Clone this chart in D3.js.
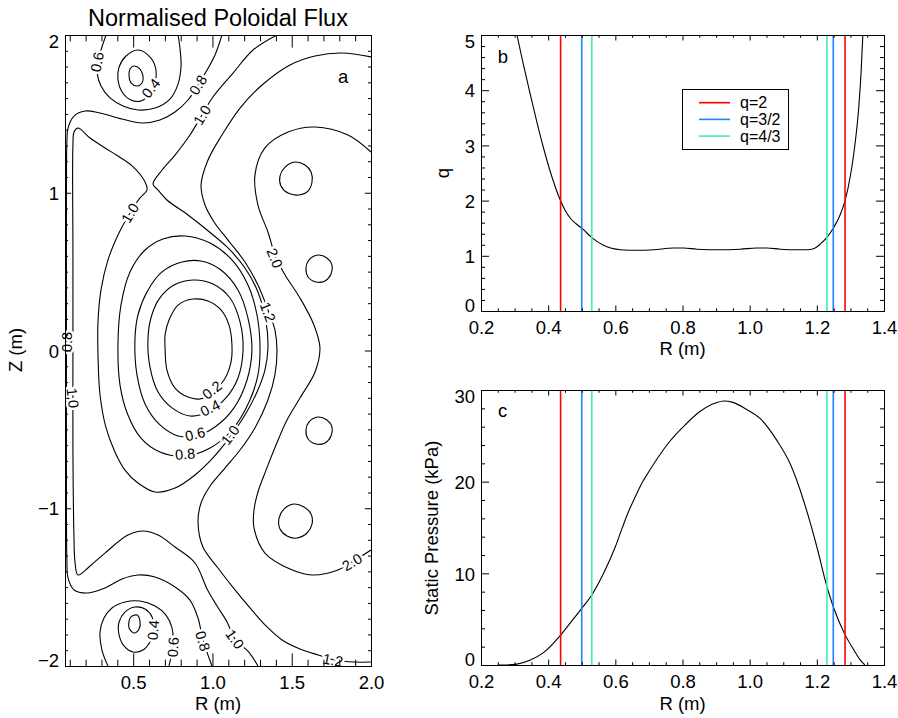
<!DOCTYPE html>
<html>
<head>
<meta charset="utf-8">
<script src="https://cdn.jsdelivr.net/npm/d3@7"></script>
<style>
  body { margin: 0; background: #fff; }
  svg text { font-family: "Liberation Sans", Arial, Helvetica, sans-serif; fill: #000; }
</style>
</head>
<body>
<svg id="fig" width="898" height="718"></svg>
<script>
// ---------------- Panel a: normalised poloidal flux contours, [R (m), Z (m)] ----------------
const core02 = [[0.701,0.022],[0.713,-0.124],[0.764,-0.238],[0.846,-0.295],[0.921,-0.307],[0.997,-0.269],[1.073,-0.187],[1.117,-0.073],[1.123,0.035],[1.104,0.162],[1.054,0.257],[0.972,0.314],[0.877,0.326],[0.783,0.288],[0.726,0.193],[0.701,0.098]];
const core04 = [[0.593,0.067],[0.606,-0.105],[0.657,-0.263],[0.745,-0.364],[0.858,-0.415],[0.972,-0.390],[1.085,-0.301],[1.161,-0.174],[1.193,0.003],[1.174,0.181],[1.111,0.333],[1.003,0.422],[0.877,0.447],[0.757,0.415],[0.663,0.326],[0.612,0.206]];
const core06 = [[0.511,0.067],[0.524,-0.155],[0.575,-0.339],[0.669,-0.472],[0.783,-0.542],[0.896,-0.542],[1.016,-0.485],[1.136,-0.364],[1.218,-0.187],[1.249,0.003],[1.224,0.206],[1.161,0.384],[1.054,0.510],[0.928,0.567],[0.808,0.561],[0.682,0.498],[0.587,0.371],[0.530,0.225]];
const core08 = [[0.404,0.035],[0.417,-0.219],[0.467,-0.409],[0.549,-0.555],[0.669,-0.643],[0.827,-0.669],[0.985,-0.618],[1.123,-0.504],[1.231,-0.326],[1.287,-0.155],[1.300,0.016],[1.281,0.225],[1.224,0.415],[1.123,0.574],[0.985,0.681],[0.827,0.726],[0.688,0.707],[0.575,0.637],[0.480,0.498],[0.423,0.288]];

const upperIsland02 = [[0.505,1.803],[0.480,1.784],[0.474,1.740],[0.486,1.696],[0.524,1.677],[0.556,1.696],[0.562,1.740],[0.543,1.784]];
const upperIsland04 = [[0.530,1.905],[0.455,1.867],[0.411,1.797],[0.404,1.715],[0.430,1.639],[0.486,1.588],[0.549,1.582],[0.606,1.626],[0.638,1.696],[0.644,1.778],[0.612,1.854]];
const upper06 = [[0.329,2.0],[0.303,1.924],[0.278,1.841],[0.272,1.765],[0.297,1.677],[0.354,1.601],[0.436,1.550],[0.530,1.525],[0.638,1.537],[0.732,1.594],[0.783,1.689],[0.802,1.803],[0.795,1.918],[0.783,2.0]];

const lowerIsland02 = [[0.486,-1.689],[0.524,-1.677],[0.543,-1.715],[0.537,-1.765],[0.505,-1.791],[0.474,-1.759],[0.474,-1.715]];
const lowerIsland04 = [[0.511,-1.626],[0.448,-1.658],[0.411,-1.721],[0.411,-1.803],[0.442,-1.873],[0.499,-1.911],[0.562,-1.899],[0.606,-1.848],[0.631,-1.772],[0.619,-1.689],[0.575,-1.639]];
const lower06 = [[0.341,-2.0],[0.303,-1.899],[0.291,-1.784],[0.316,-1.696],[0.366,-1.632],[0.448,-1.594],[0.543,-1.588],[0.638,-1.620],[0.707,-1.677],[0.745,-1.759],[0.751,-1.867],[0.726,-2.0]];

const sep08 = [[1.060,2.0],[1.016,1.873],[0.966,1.778],[0.909,1.683],[0.846,1.588],[0.764,1.512],[0.669,1.461],[0.556,1.442],[0.430,1.467],[0.291,1.505],[0.196,1.518],[0.127,1.486],[0.089,1.410],[0.082,1.322],[0.079,0.954],[0.079,0.0],[0.079,-0.948],[0.082,-1.328],[0.089,-1.442],[0.127,-1.518],[0.215,-1.537],[0.322,-1.506],[0.430,-1.448],[0.530,-1.423],[0.638,-1.436],[0.764,-1.499],[0.858,-1.582],[0.909,-1.696],[0.940,-1.835],[0.997,-2.0]];

const sep10 = [[1.407,2.0],[1.256,1.905],[1.130,1.759],[1.003,1.607],[0.934,1.493],[0.858,1.366],[0.764,1.239],[0.682,1.144],[0.625,1.055],[0.657,1.017],[0.713,0.954],[0.846,0.859],[0.966,0.764],[1.098,0.650],[1.205,0.523],[1.287,0.371],[1.338,0.181],[1.350,0.016],[1.331,-0.124],[1.281,-0.263],[1.205,-0.409],[1.111,-0.548],[1.003,-0.681],[0.890,-0.789],[0.764,-0.872],[0.638,-0.897],[0.530,-0.840],[0.448,-0.758],[0.385,-0.643],[0.329,-0.491],[0.291,-0.282],[0.278,-0.029],[0.278,0.181],[0.297,0.384],[0.341,0.574],[0.404,0.732],[0.480,0.872],[0.543,0.967],[0.587,1.017],[0.575,1.068],[0.493,1.170],[0.404,1.233],[0.322,1.284],[0.228,1.347],[0.152,1.410],[0.127,1.385],[0.120,1.303],[0.120,0.637],[0.120,0.003],[0.120,-0.631],[0.127,-1.201],[0.133,-1.341],[0.152,-1.423],[0.228,-1.366],[0.322,-1.284],[0.467,-1.170],[0.562,-1.144],[0.657,-1.170],[0.764,-1.246],[0.890,-1.347],[0.966,-1.512],[1.029,-1.620],[1.092,-1.721],[1.142,-1.829],[1.228,-1.911],[1.287,-2.0]];

const flux12 = [[2.0,1.861],[1.817,1.886],[1.647,1.867],[1.489,1.810],[1.313,1.683],[1.174,1.537],[1.060,1.366],[0.972,1.208],[0.928,1.049],[0.953,0.922],[1.010,0.815],[1.098,0.700],[1.205,0.561],[1.287,0.415],[1.350,0.257],[1.394,0.130],[1.407,0.003],[1.394,-0.155],[1.350,-0.314],[1.268,-0.491],[1.174,-0.631],[1.079,-0.745],[0.985,-0.859],[0.928,-0.967],[0.909,-1.087],[0.940,-1.246],[1.035,-1.379],[1.142,-1.518],[1.237,-1.632],[1.338,-1.746],[1.439,-1.835],[1.552,-1.892],[1.666,-1.930],[1.773,-1.962],[1.899,-1.975],[2.0,-1.975]];

const flux20 = [[2.0,1.258],[1.855,1.366],[1.647,1.417],[1.477,1.385],[1.331,1.284],[1.268,1.112],[1.287,0.922],[1.350,0.751],[1.401,0.586],[1.458,0.479],[1.552,0.333],[1.640,0.162],[1.678,0.016],[1.647,-0.136],[1.552,-0.301],[1.470,-0.441],[1.401,-0.599],[1.338,-0.758],[1.287,-0.897],[1.262,-1.011],[1.262,-1.125],[1.331,-1.284],[1.489,-1.385],[1.628,-1.423],[1.792,-1.391],[1.880,-1.341],[2.0,-1.265]];

const outerO1 = [[1.521,1.195],[1.584,1.176],[1.622,1.132],[1.628,1.068],[1.603,1.011],[1.546,0.986],[1.477,0.998],[1.432,1.043],[1.426,1.106],[1.458,1.163]];
const outerO2 = [[1.666,0.605],[1.722,0.586],[1.754,0.542],[1.748,0.485],[1.710,0.441],[1.653,0.434],[1.603,0.466],[1.590,0.523],[1.609,0.574]];
const outerO3 = [[1.666,-0.422],[1.722,-0.441],[1.754,-0.485],[1.748,-0.542],[1.710,-0.586],[1.653,-0.593],[1.603,-0.561],[1.590,-0.504],[1.609,-0.453]];
const outerO4 = [[1.514,-0.973],[1.577,-0.992],[1.622,-1.036],[1.628,-1.100],[1.596,-1.157],[1.533,-1.189],[1.470,-1.176],[1.426,-1.132],[1.420,-1.062],[1.451,-1.005]];

const contourSet = [
  { level: 0.2, pts: core02, closed: true },
  { level: 0.4, pts: core04, closed: true },
  { level: 0.6, pts: core06, closed: true },
  { level: 0.8, pts: core08, closed: true },
  { level: 0.2, pts: upperIsland02, closed: true },
  { level: 0.4, pts: upperIsland04, closed: true },
  { level: 0.6, pts: upper06, closed: false },
  { level: 0.2, pts: lowerIsland02, closed: true },
  { level: 0.4, pts: lowerIsland04, closed: true },
  { level: 0.6, pts: lower06, closed: false },
  { level: 0.8, pts: sep08, closed: false },
  { level: 1.0, pts: sep10, closed: false },
  { level: 1.2, pts: flux12, closed: false },
  { level: 2.0, pts: flux20, closed: false },
  { level: 2.2, pts: outerO1, closed: true },
  { level: 2.2, pts: outerO2, closed: true },
  { level: 2.2, pts: outerO3, closed: true },
  { level: 2.2, pts: outerO4, closed: true }
];

// Contour labels: which line and where along it (R, Z)
const contourLabels = [
  { line: upper06, at: [0.272, 1.829] },
  { line: upperIsland04, at: [0.612, 1.664] },
  { line: sep08, at: [0.909, 1.683] },
  { line: sep10, at: [0.934, 1.493] },
  { line: sep10, at: [0.480, 0.872] },
  { line: flux20, at: [1.394, 0.586] },
  { line: flux12, at: [1.350, 0.244] },
  { line: sep08, at: [0.080, 0.054] },
  { line: sep10, at: [0.120, -0.301] },
  { line: core02, at: [0.997, -0.250] },
  { line: core04, at: [0.985, -0.364] },
  { line: core06, at: [0.890, -0.529] },
  { line: core08, at: [0.827, -0.656] },
  { line: sep10, at: [1.111, -0.536] },
  { line: flux20, at: [1.880, -1.341] },
  { line: sep10, at: [1.142, -1.829] },
  { line: flux12, at: [1.760, -1.962] },
  { line: sep08, at: [0.940, -1.842] },
  { line: lower06, at: [0.751, -1.880] },
  { line: lowerIsland04, at: [0.625, -1.772] }
];

// ---------------- Panel b: safety factor profile ----------------
const qR   = [0.307,0.325,0.345,0.365,0.385,0.405,0.420,0.436,0.450,0.466,0.483,0.500,0.530,0.565,0.615,0.664,0.714,0.773,0.803,0.843,0.912,0.972,1.021,1.051,1.091,1.140,1.175,1.195,1.210,1.230,1.249,1.268,1.284,1.300,1.314,1.325,1.332,1.337];
const qVal = [5.0,4.50,3.97,3.46,2.98,2.55,2.27,2.01,1.83,1.68,1.58,1.50,1.33,1.19,1.11,1.10,1.11,1.14,1.14,1.12,1.11,1.12,1.14,1.14,1.12,1.11,1.11,1.14,1.21,1.333,1.50,1.72,2.0,2.45,3.04,3.70,4.35,5.0];

// ---------------- Panel c: static pressure profile (kPa) ----------------
const pR   = [0.250,0.267,0.307,0.347,0.386,0.437,0.466,0.500,0.530,0.565,0.600,0.620,0.640,0.660,0.680,0.700,0.730,0.760,0.800,0.850,0.900,0.922,0.950,0.990,1.031,1.081,1.120,1.160,1.200,1.230,1.249,1.282,1.309,1.329,1.343];
const pVal = [0.0,0.0,0.1,0.55,1.35,3.27,4.6,6.18,7.64,10.0,12.9,14.9,16.8,18.4,19.9,21.1,22.8,24.3,25.9,27.6,28.6,28.8,28.65,27.9,26.9,24.5,22.0,18.0,12.9,8.55,6.36,3.45,1.71,0.55,0.0];

// Rational q surfaces (major radius of crossings)
const surfaceNames  = ['q=2', 'q=3/2', 'q=4/3'];
const surfaceColors = ['#ff0000', '#1e82ff', '#40f0a8'];
const surfaceR      = [[0.437, 1.284], [0.500, 1.249], [0.530, 1.230]];

// Tick values and labels
const aXMajor = [0.5, 1.0, 1.5, 2.0], aXLab = ['0.5', '1.0', '1.5', '2.0'];
const aYMajor = [-2, -1, 0, 1, 2],    aYLab = ['\u22122', '\u22121', '0', '1', '2'];
const bXMajor = [0.2, 0.4, 0.6, 0.8, 1.0, 1.2, 1.4], bXLab = ['0.2', '0.4', '0.6', '0.8', '1.0', '1.2', '1.4'];
const bYMajor = [0, 1, 2, 3, 4, 5],   bYLab = ['0', '1', '2', '3', '4', '5'];
const cYMajor = [0, 10, 20, 30],      cYLab = ['0', '10', '20', '30'];

// ---------------- Drawing ----------------
const svg = d3.select('#fig');
const defs = svg.append('defs');

const xA = d3.scaleLinear().domain([0.07, 2.0]).range([65, 371]);
const yA = d3.scaleLinear().domain([-2, 2]).range([666, 35]);
const xB = d3.scaleLinear().domain([0.2, 1.4]).range([481, 884]);
const yB = d3.scaleLinear().domain([0, 5]).range([311, 35]);
const yC = d3.scaleLinear().domain([0, 30]).range([665, 390]);

function clipFor(id, x, y) {
  const [x0, x1] = x.range(), [yb, yt] = y.range();
  defs.append('clipPath').attr('id', id).append('rect')
    .attr('x', x0).attr('y', yt).attr('width', x1 - x0).attr('height', yb - yt);
  return `url(#${id})`;
}

function drawFrame(x, y, o) {
  const [x0, x1] = x.range(), [yb, yt] = y.range();
  const w = x1 - x0, h = yb - yt;
  const xl = 0.02 * h, yl = 0.02 * w;
  const g = svg.append('g').attr('color', '#000');
  const add = (axis, tr) => g.append('g').attr('transform', tr).call(axis)
    .call(s => s.select('.domain').remove());
  const none = () => '';

  add(d3.axisBottom(x).tickValues(o.xMajor).tickSize(-xl).tickFormat((d, i) => o.xLab[i]), `translate(0,${yb})`)
    .call(s => s.selectAll('text').attr('y', 23).attr('dy', null).attr('font-size', 18.5));
  add(d3.axisBottom(x).tickValues(o.xMinor).tickSize(-xl / 2).tickFormat(none), `translate(0,${yb})`);
  add(d3.axisTop(x).tickValues(o.xMajor).tickSize(-xl).tickFormat(none), `translate(0,${yt})`);
  add(d3.axisTop(x).tickValues(o.xMinor).tickSize(-xl / 2).tickFormat(none), `translate(0,${yt})`);

  const [ymin, ymax] = y.domain();
  add(d3.axisLeft(y).tickValues(o.yMajor).tickSize(-yl).tickFormat((d, i) => o.yLab[i]), `translate(${x0},0)`)
    .call(s => s.selectAll('text').attr('x', -6).attr('dy', '0.36em').attr('font-size', 18.5)
      .attr('y', d => d === ymax ? 6 : (d === ymin ? -6 : 0)));
  add(d3.axisLeft(y).tickValues(o.yMinor).tickSize(-yl / 2).tickFormat(none), `translate(${x0},0)`);
  add(d3.axisRight(y).tickValues(o.yMajor).tickSize(-yl).tickFormat(none), `translate(${x1},0)`);
  add(d3.axisRight(y).tickValues(o.yMinor).tickSize(-yl / 2).tickFormat(none), `translate(${x1},0)`);

  g.append('rect').attr('x', x0 + 0.5).attr('y', yt + 0.5).attr('width', w).attr('height', h)
    .attr('fill', 'none').attr('stroke', '#000').attr('stroke-width', 1);
}

// ---- Panel a ----
const clipA = clipFor('clipA', xA, yA);
const gA = svg.append('g').attr('clip-path', clipA);
const lineOpen = d3.line().x(d => xA(d[0])).y(d => yA(d[1])).curve(d3.curveCatmullRom.alpha(0.5));
const lineClosed = d3.line().x(d => xA(d[0])).y(d => yA(d[1])).curve(d3.curveCatmullRomClosed.alpha(0.5));

gA.selectAll('path.contour').data(contourSet).join('path')
  .attr('class', 'contour')
  .attr('d', c => (c.closed ? lineClosed : lineOpen)(c.pts))
  .attr('fill', 'none').attr('stroke', '#000').attr('stroke-width', 1.1);

function labelAngle(c, at) {
  const P = c.pts.map(p => [xA(p[0]), yA(p[1])]);
  const a = [xA(at[0]), yA(at[1])];
  let bi = 0, bd = Infinity;
  P.forEach((p, i) => { const d = (p[0] - a[0]) ** 2 + (p[1] - a[1]) ** 2; if (d < bd) { bd = d; bi = i; } });
  const n = P.length;
  const i0 = c.closed ? (bi - 1 + n) % n : Math.max(0, bi - 1);
  const i1 = c.closed ? (bi + 1) % n : Math.min(n - 1, bi + 1);
  let ang = Math.atan2(P[i1][1] - P[i0][1], P[i1][0] - P[i0][0]) * 180 / Math.PI;
  if (ang >= 90) ang -= 180;
  if (ang < -90) ang += 180;
  return ang;
}

const labelData = contourLabels.map(l => {
  const c = contourSet.find(s => s.pts === l.line);
  return { text: c.level.toFixed(1), x: xA(l.at[0]), y: yA(l.at[1]), ang: labelAngle(c, l.at) };
});
svg.append('g').selectAll('text').data(labelData).join('text')
  .attr('transform', d => `translate(${d.x},${d.y}) rotate(${d.ang})`)
  .attr('text-anchor', 'middle').attr('dy', '0.36em')
  .attr('font-size', 14.5)
  .attr('stroke', '#fff').attr('stroke-width', 5).attr('stroke-linejoin', 'round')
  .attr('paint-order', 'stroke')
  .text(d => d.text);

drawFrame(xA, yA, {
  xMajor: aXMajor, xLab: aXLab,
  xMinor: d3.range(1, 21).filter(i => i % 5 !== 0).map(i => i / 10),
  yMajor: aYMajor, yLab: aYLab,
  yMinor: d3.range(-20, 21).filter(i => i % 10 !== 0).map(i => i / 10)
});

svg.append('text').attr('x', 218).attr('y', 26).attr('text-anchor', 'middle')
  .attr('font-size', 23.5).text('Normalised Poloidal Flux');
svg.append('text').attr('x', 218).attr('y', 709.5).attr('text-anchor', 'middle')
  .attr('font-size', 18.5).text('R (m)');
svg.append('text').attr('transform', 'translate(21.5,350) rotate(-90)').attr('text-anchor', 'middle')
  .attr('font-size', 18.5).text('Z (m)');
svg.append('text').attr('x', 338).attr('y', 83).attr('font-size', 18.5).text('a');

// ---- Panels b and c ----
const bcXMinor = d3.range(4, 29).filter(i => i % 4 !== 0).map(i => i * 0.05);

function surfaceLines(y, clip) {
  const g = svg.append('g').attr('clip-path', clip);
  const [yb, yt] = y.range();
  surfaceR.forEach((rs, k) => {
    g.selectAll(null).data(rs).join('line')
      .attr('x1', d => xB(d)).attr('x2', d => xB(d))
      .attr('y1', yb).attr('y2', yt)
      .attr('stroke', surfaceColors[k]).attr('stroke-width', 1.6);
  });
}

// Panel b
const clipB = clipFor('clipB', xB, yB);
svg.append('path').attr('clip-path', clipB)
  .datum(d3.zip(qR, qVal))
  .attr('d', d3.line().x(d => xB(d[0])).y(d => yB(d[1])).curve(d3.curveMonotoneX))
  .attr('fill', 'none').attr('stroke', '#000').attr('stroke-width', 1.1);
surfaceLines(yB, clipB);
drawFrame(xB, yB, {
  xMajor: bXMajor, xLab: bXLab, xMinor: bcXMinor,
  yMajor: bYMajor, yLab: bYLab,
  yMinor: d3.range(0, 26).filter(i => i % 5 !== 0).map(i => i * 0.2)
});
svg.append('text').attr('x', 682.5).attr('y', 354.5).attr('text-anchor', 'middle')
  .attr('font-size', 18.5).text('R (m)');
svg.append('text').attr('transform', 'translate(449,173) rotate(-90)').attr('text-anchor', 'middle')
  .attr('font-size', 18.5).text('q');
svg.append('text').attr('x', 497.7).attr('y', 63.3).attr('font-size', 18.5).text('b');

// Legend
const leg = svg.append('g');
leg.append('rect').attr('x', 682.5).attr('y', 89.5).attr('width', 106).attr('height', 60)
  .attr('fill', '#fff').attr('stroke', '#000').attr('stroke-width', 1);
surfaceNames.forEach((name, i) => {
  const yy = 102.7 + i * 16.7;
  leg.append('line').attr('x1', 699).attr('x2', 730).attr('y1', yy).attr('y2', yy)
    .attr('stroke', surfaceColors[i]).attr('stroke-width', 1.6);
  leg.append('text').attr('x', 740).attr('y', yy).attr('dy', '0.36em')
    .attr('font-size', 16).text(name);
});

// Panel c
const clipC = clipFor('clipC', xB, yC);
svg.append('path').attr('clip-path', clipC)
  .datum(d3.zip(pR, pVal))
  .attr('d', d3.line().x(d => xB(d[0])).y(d => yC(d[1])).curve(d3.curveMonotoneX))
  .attr('fill', 'none').attr('stroke', '#000').attr('stroke-width', 1.1);
surfaceLines(yC, clipC);
drawFrame(xB, yC, {
  xMajor: bXMajor, xLab: bXLab, xMinor: bcXMinor,
  yMajor: cYMajor, yLab: cYLab,
  yMinor: d3.range(0, 16).filter(i => i % 5 !== 0).map(i => i * 2)
});
svg.append('text').attr('x', 682.5).attr('y', 709.5).attr('text-anchor', 'middle')
  .attr('font-size', 18.5).text('R (m)');
svg.append('text').attr('transform', 'translate(438,528) rotate(-90)').attr('text-anchor', 'middle')
  .attr('font-size', 18.5).text('Static Pressure (kPa)');
svg.append('text').attr('x', 498).attr('y', 417.3).attr('font-size', 18.5).text('c');
</script>
</body>
</html>
